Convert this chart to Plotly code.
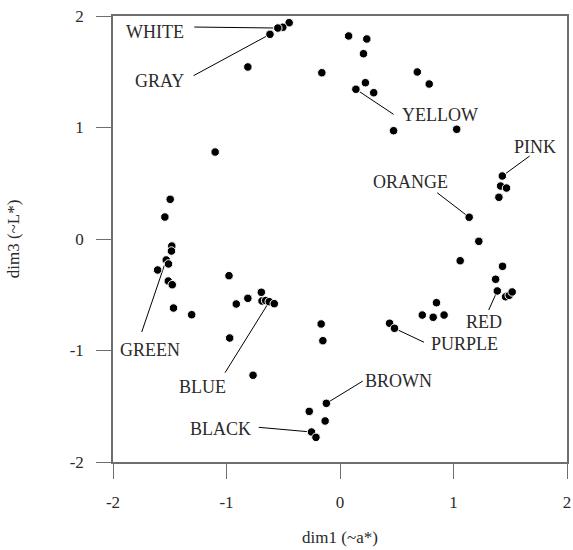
import plotly.graph_objects as go

# ---- data ----
dim1 = [-0.448, -0.504, -0.548, -0.617, -0.812, -0.160, 0.076, 0.236, 0.207, 0.681,
        0.786, 0.224, 0.140, 0.297, 0.472, 1.028,
        -1.100, -1.496, -1.543, -1.482, -1.485, -1.531, -1.511, -1.607, -1.513, -1.478,
        -1.467, -1.307, -0.978, -0.693, -0.812, -0.914, -0.687, -0.655, -0.623, -0.579,
        -0.972, -0.766, -0.166, -0.151, -0.120, -0.271, -0.131, -0.251, -0.212,
        1.430, 1.415, 1.467, 1.400, 1.138, 1.223, 1.059, 1.432, 1.371, 1.386,
        1.459, 1.491, 1.517, 0.850, 0.725, 0.821, 0.917, 0.437, 0.480]
dim3 = [1.940, 1.899, 1.892, 1.836, 1.543, 1.491, 1.821, 1.794, 1.662, 1.498,
        1.390, 1.402, 1.343, 1.312, 0.971, 0.984,
        0.780, 0.356, 0.197, -0.063, -0.108, -0.188, -0.224, -0.278, -0.377, -0.410,
        -0.619, -0.679, -0.329, -0.478, -0.532, -0.583, -0.556, -0.552, -0.562, -0.580,
        -0.888, -1.222, -0.762, -0.912, -1.474, -1.546, -1.632, -1.731, -1.779,
        0.565, 0.475, 0.457, 0.374, 0.195, -0.021, -0.195, -0.245, -0.361, -0.466,
        -0.518, -0.505, -0.475, -0.571, -0.682, -0.702, -0.682, -0.756, -0.801]

label_names = ["WHITE", "GRAY", "YELLOW", "PINK", "ORANGE", "RED",
               "PURPLE", "BROWN", "BLACK", "BLUE", "GREEN"]
label_point = [2, 3, 12, 45, 49, 54, 63, 40, 43, 34, 21]   # index of labelled point

tick_vals = [-2, -1, 0, 1, 2]
tick_text = ["-2", "-1", "0", "1", "2"]

# ---- label placement (layout only) ----
label_text_pos = [(-1.633, 1.857), (-1.590, 1.417), (0.882, 1.112), (1.721, 0.825),
                  (0.620, 0.511), (1.266, -0.744), (1.100, -0.942), (0.515, -1.274),
                  (-1.057, -1.704), (-1.214, -1.327), (-1.677, -0.996)]
leader_start = [(-1.284, 1.901), (-1.290, 1.465), (0.472, 1.118), (1.671, 0.744),
                (0.856, 0.415), (1.310, -0.637), (0.740, -0.926), (0.201, -1.274),
                (-0.716, -1.689), (-1.013, -1.199), (-1.747, -0.834)]

FONT = "Liberation Serif"
AX_COLOR = "#6e6e6e"
TXT = "#2a2a2a"

fig = go.Figure()
fig.add_trace(go.Scatter(
    x=dim1, y=dim3, mode="markers",
    marker=dict(color="black", size=8.5, line=dict(color="white", width=1)),
    hoverinfo="skip", showlegend=False, cliponaxis=False))

for name, idx, tp, ls in zip(label_names, label_point, label_text_pos, leader_start):
    fig.add_shape(type="line", xref="x", yref="y",
                  x0=ls[0], y0=ls[1], x1=dim1[idx], y1=dim3[idx],
                  line=dict(color="black", width=1), layer="below")
    fig.add_annotation(x=tp[0], y=tp[1], xref="x", yref="y", text=name,
                       showarrow=False, font=dict(family=FONT, size=18, color=TXT))

axis_common = dict(
    range=[-2, 2], tickmode="array", tickvals=tick_vals, ticktext=tick_text,
    showgrid=False, zeroline=False, showline=True, linecolor=AX_COLOR, linewidth=1.5,
    mirror=True, ticks="outside", ticklen=15, tickcolor=AX_COLOR, tickwidth=1.2,
    tickfont=dict(family=FONT, size=17, color=TXT), ticklabeloverflow="allow",
)
fig.update_xaxes(**axis_common, ticklabelstandoff=9,
                 title=dict(text="dim1 (~a*)", standoff=20,
                            font=dict(family=FONT, size=17, color=TXT)))
fig.update_yaxes(**axis_common, ticklabelstandoff=9,
                 title=dict(text="dim3 (~L*)", standoff=46,
                            font=dict(family=FONT, size=17, color=TXT)))

fig.update_layout(
    width=573, height=550,
    margin=dict(l=113, r=2, t=16, b=88),
    plot_bgcolor="white", paper_bgcolor="white",
    font=dict(family=FONT),
)
fig.write_html("out.html", config={"displayModeBar": False},
               post_script="document.body.style.margin='0';")
